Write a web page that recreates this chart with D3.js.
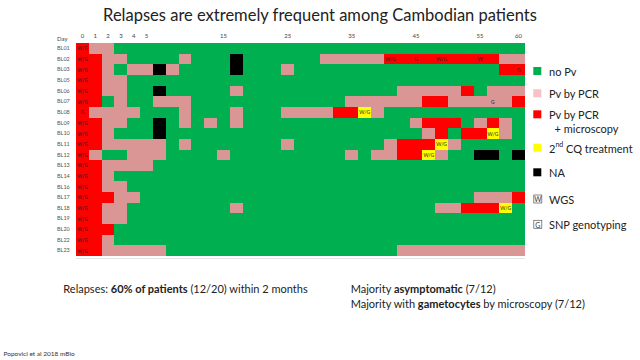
<!DOCTYPE html>
<html><head><meta charset="utf-8">
<script src="https://cdn.jsdelivr.net/npm/d3@7"></script>
<style>
body{margin:0;background:#fff;}
svg{display:block;font-family:Lato,"Open Sans",sans-serif;}
</style></head>
<body><svg id="c" width="640" height="360"></svg>
<script>
// ---- data ----
const patients = ["BL01","BL02","BL03","BL05","BL06","BL07","BL08","BL09","BL10","BL11","BL12","BL13","BL14","BL16","BL17","BL18","BL19","BL20","BL22","BL23"];
// column (visit) tick labels, one entry per column
const dayLabels = ["0","1","2","3","4","5","","","","","","15","","","","","25","","","","","35","","","","","45","","","","","55","","","60"];
// status per visit: G = no Pv, P = Pv by PCR, R = Pv by PCR + microscopy, Y = 2nd CQ treatment, K = NA
const statusRows = [
 "RPPGG GGGGG GGGGG GGGGG GGGGG GGGGG GGGGG",
 "RRPPG GGGPG GGKGG GGGGP PPPPR RRRRR RRRPP",
 "RRPGP PKPGG GGKGG GPGGG GGGGG GGGGG GGGRR",
 "RRPPG GGGGG GGGGG GGGGG GGGGG GGGGG GGGGG",
 "RRPPG GKGGG GGPGG GGGGG GGGGG PPPPP RGPPP",
 "RRGPG GPPPG GGGGG GGGGG GPPPP PPRRP PPPPR",
 "RPPPP GGGPG GGPGG GPPPP RRYPG GGGGG GGGGG",
 "RRPPG GKGPG PGPGG GGGGG GGGGG GPRRR GPRPG",
 "RRPGG GKGGG GGGGG GGGGG GGGGG GGPRG RRYPG",
 "RRPPP PPGPG GGGGG GPGGG GGGGP RRRYP GGGGG",
 "RPGGP PPGGG GPGGG GGGGG GPGPP RRYPG GKKGK",
 "RRPPP PGGGG GGGGG GGGGG GGGGG GGGGG GGGGG",
 "RRPGG GGGGG GGGGG GGGGG GGGGG GGGGG GGGGG",
 "RRPPG GGGGG GGGGG GGGGG GGGGG GGGGG GGGGG",
 "RRRPP GGGGG GGGGG GGGGG GGGGG GGGGG GPPPR",
 "RRPPG GGGGG GGPGG GGGGG GGGGG GGGPP RRRYG",
 "RRPPG GGGGG GGGGG GGGGG GGGGG GGGGG GGGGG",
 "RRRGG GGGGG GGGGG GGGGG GGGGG GGGGG GGGGG",
 "RRPGG GGGGG GGGGG GGGGG GGGGG GGGGG GGGGG",
 "RRPPP PPGGG GGGGG GGGGG GGGGG PPPPP PPPPP"
];
// sample annotations: [row, column, text]
const sampleTags = [
 [0,0,"W/G"],[1,0,"W/G"],[2,0,"W/G"],[3,0,"W/G"],[4,0,"W/G"],[5,0,"W/G"],[6,0,"G"],[7,0,"W/G"],[8,0,"W/G"],[9,0,"W/G"],
 [10,0,"W/G"],[11,0,"W/G"],[12,0,"W/G"],[13,0,"W/G"],[14,0,"W/G"],[15,0,"W/G"],[16,0,"W/G"],[17,0,"W/G"],[18,0,"W/G"],[19,0,"W/G"],
 [1,24,"W/G"],[1,26,"G"],[1,28,"W/G"],[1,31,"W"],[2,34,"G"],[5,32,"G"],
 [6,22,"W/G"],[8,32,"W/G"],[9,28,"W/G"],[10,27,"W/G"],[15,33,"W/G"]
];
const statusCodes = ["G","P","R","Y","K"];
const statusNames = ["no Pv","Pv by PCR","Pv by PCR","2nd CQ treatment","NA"];

// ---- drawing ----
const svg = d3.select("#c");
const cellColor = d3.scaleOrdinal().domain(statusCodes).range(["#00B050","#DA9694","#FF0000","#FFFF00","#000000"]);
const legendColor = d3.scaleOrdinal().domain(statusCodes).range(["#00B050","#F7C1C8","#FF0000","#FFFF00","#000000"]);

const cols = d3.range(dayLabels.length);
const x = d3.scaleBand().domain(cols).range([76,525]).padding(0);
const y = d3.scaleBand().domain(patients).range([43,256]).padding(0);

const cells = [];
statusRows.forEach((s,i)=>{
  const codes = s.replace(/ /g,"").split("");
  codes.forEach((c,j)=>cells.push({p:patients[i], col:j, s:c}));
});

svg.append("text").attr("x",320).attr("y",21).attr("text-anchor","middle")
  .attr("font-size",16.5).attr("fill","#222").text("Relapses are extremely frequent among Cambodian patients");

const g = svg.append("g");
const x0 = c=>Math.round(x(c)), x1 = c=>Math.round(x(c)+x.bandwidth());
const y0 = p=>Math.round(y(p)), y1 = p=>Math.round(y(p)+y.bandwidth());
g.selectAll("rect.cell").data(cells).join("rect").attr("class","cell")
  .attr("shape-rendering","crispEdges")
  .attr("x",d=>x0(d.col)).attr("y",d=>y0(d.p))
  .attr("width",d=>x1(d.col)-x0(d.col)).attr("height",d=>y1(d.p)-y0(d.p))
  .attr("fill",d=>cellColor(d.s));

// top axis with day labels
const xAxis = d3.axisTop(x).tickSize(0).tickFormat(i=>dayLabels[i]);
const ax = svg.append("g").attr("transform","translate(0,41)").call(xAxis);
ax.select(".domain").remove();
ax.selectAll("text").attr("font-size",6).attr("fill","#444").attr("font-family","Lato,sans-serif").attr("dy","0");
svg.append("text").attr("x",57).attr("y",40.5).attr("font-size",6).attr("fill","#444").text("Day");

// left axis with patient ids
const yAxis = d3.axisLeft(y).tickSize(0);
const ay = svg.append("g").attr("transform","translate(57,0)").call(yAxis);
ay.select(".domain").remove();
ay.selectAll("text").attr("text-anchor","start").attr("x",0).attr("font-size",5.5).attr("fill","#555").attr("font-family","Lato,sans-serif");

// tags
g.selectAll("text.tag").data(sampleTags).join("text").attr("class","tag")
  .attr("x",d=>x(d[1])+x.bandwidth()/2).attr("y",d=>y(patients[d[0]])+y.bandwidth()/2)
  .attr("text-anchor","middle").attr("dominant-baseline","central")
  .attr("font-size",5).attr("fill","#222").text(d=>d[2]);

// bottom border
svg.append("line").attr("x1",76).attr("x2",525).attr("y1",258.5).attr("y2",258.5).attr("stroke","#e4e4e4").attr("stroke-width",1);

// legend
const leg = svg.append("g");
const legY = [71,93.3,114.3,147.7,172.3];
statusCodes.forEach((c,i)=>{
  leg.append("rect").attr("x",533.3).attr("y",legY[i]-4).attr("width",8).attr("height",8).attr("fill",legendColor(c));
});
const lt = (yy,txt,xx=549)=>leg.append("text").attr("x",xx).attr("y",yy).attr("dominant-baseline","central").attr("font-size",11).attr("fill","#222").text(txt);
lt(legY[0],statusNames[0]);
lt(legY[1],statusNames[1]);
lt(legY[2],statusNames[2]);
lt(128.5,"+ microscopy",554.5);
const cq = leg.append("text").attr("x",549).attr("y",legY[3]).attr("dominant-baseline","central").attr("font-size",11).attr("fill","#222");
cq.append("tspan").text("2");
cq.append("tspan").attr("font-size",7).attr("dy",-3.5).text("nd");
cq.append("tspan").attr("dy",3.5).text(" CQ treatment");
lt(legY[4],statusNames[4]);
[["W","WGS",199],["G","SNP genotyping",224.3]].forEach(([l,t,yy])=>{
  leg.append("rect").attr("x",533.8).attr("y",yy-4).attr("width",8).attr("height",8).attr("fill","#fff").attr("stroke","#555").attr("stroke-width",0.7);
  leg.append("text").attr("x",537.8).attr("y",yy+0.2).attr("text-anchor","middle").attr("dominant-baseline","central").attr("font-size",7).attr("fill","#333").text(l);
  lt(yy,t);
});

// bottom notes
const note = (xx,yy,parts)=>{
  const t = svg.append("text").attr("x",xx).attr("y",yy).attr("font-size",11).attr("fill","#222").attr("dominant-baseline","central");
  parts.forEach(p=>t.append("tspan").attr("font-weight",p[1]?"bold":"normal").text(p[0]));
};
note(63.3,288,[["Relapses: ",0],["60% of patients",1],[" (12/20) within 2 months",0]]);
note(350.7,288,[["Majority ",0],["asymptomatic",1],[" (7/12)",0]]);
note(350.7,303,[["Majority with ",0],["gametocytes",1],[" by microscopy (7/12)",0]]);
svg.append("text").attr("x",3.5).attr("y",353).attr("dominant-baseline","central").attr("font-size",6.5).attr("fill","#333").text("Popovici et al 2018 mBio");
</script></body></html>
